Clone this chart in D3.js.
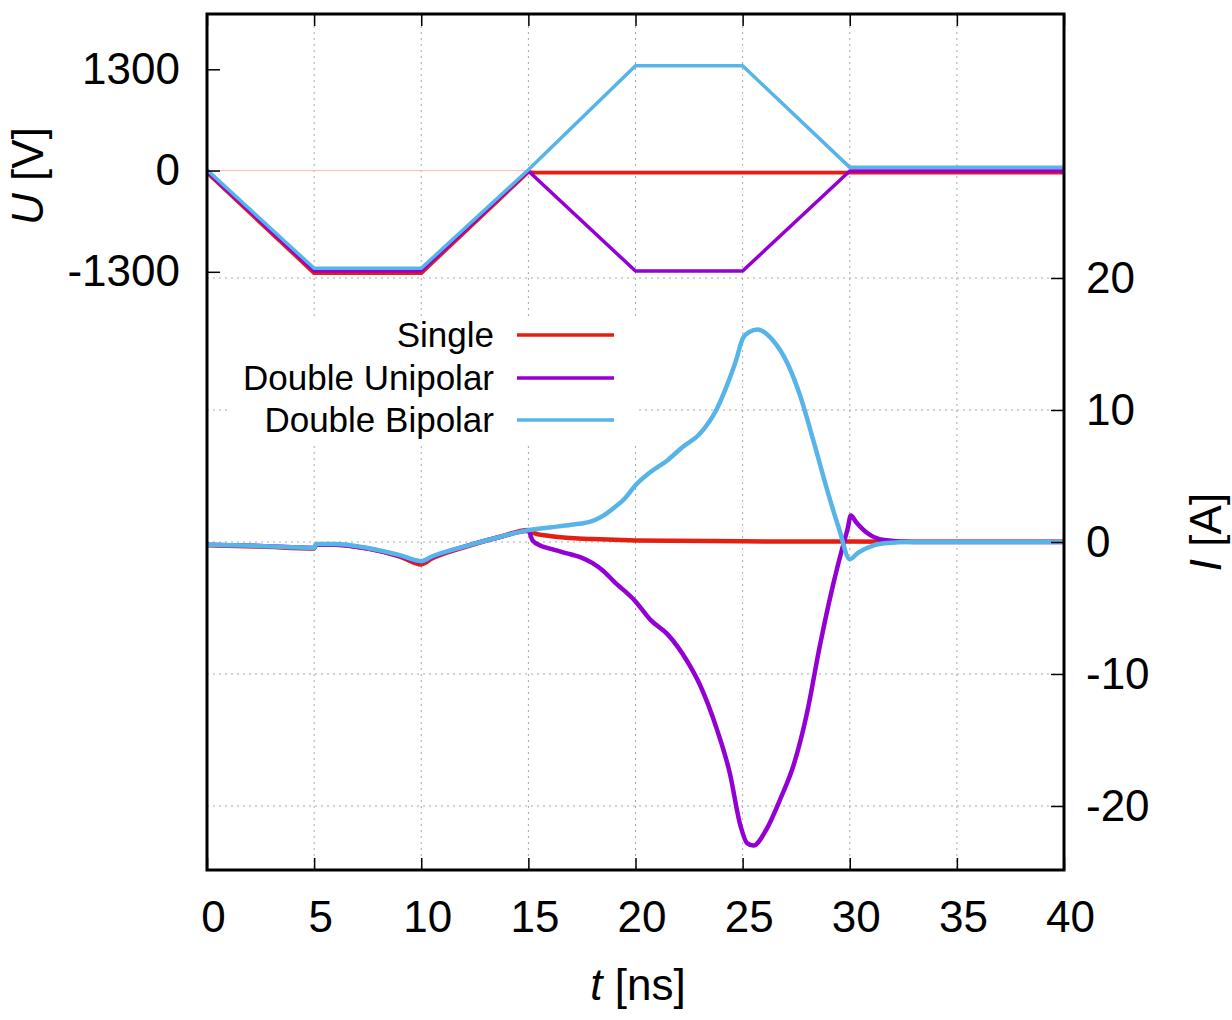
<!doctype html>
<html>
<head>
<meta charset="UTF-8">
<title>U and I vs t</title>
<script src="https://d3js.org/d3.v7.min.js"></script>
<style>
  body { margin: 0; background: #fff; }
  text { font-family: "Liberation Sans", Arial, Helvetica, sans-serif; fill: #000; }
</style>
</head>
<body>
<svg id="chart" width="1232" height="1020"></svg>
<script>
// ---- data ----
var tTicks = [0, 5, 10, 15, 20, 25, 30, 35, 40];
var uTicks = [-1300, 0, 1300];
var iTicks = [-20, -10, 0, 10, 20];
var names = ["Single", "Double Unipolar", "Double Bipolar"];
var colors = ["#e51e10", "#9400d3", "#56b4e9"];

// voltage [ns, V]
var uSingle = [[0,-30],[5,-1320],[10,-1320],[15,-20],[15.3,-28],[40,-28]];
var uUnipolar = [[0,-15],[5,-1290],[10,-1290],[15,-5],[20,-1290],[25,-1290],[30,-6],[40,-6]];
var uBipolar = [[0,10],[5,-1255],[10,-1255],[15,10],[20,1345],[25,1345],[30,41],[40,41]];

// current [ns, A]
var iSingle = [[0,-0.25],[2.5,-0.35],[5,-0.5],[5.1,-0.2],[6,-0.2],[7.5,-0.5],[9,-1.1],[10,-1.7],
  [10.5,-1.25],[12,-0.4],[13.7,0.4],[15,0.9],[15.3,0.65],[16,0.45],[17,0.3],[18,0.22],[20,0.12],
  [25,0.05],[30,0.03],[35,0.02],[40,0.02]];
var iUnipolar = [[0,-0.2],[2.5,-0.3],[5,-0.45],[5.1,-0.2],[6,-0.2],[7.5,-0.5],[9,-1.05],[10,-1.5],
  [10.5,-1.15],[12,-0.35],[13.7,0.4],[15,0.85],[15.2,0.1],[15.6,-0.3],[16,-0.5],[17,-0.95],
  [17.5,-1.2],[18,-1.6],[18.5,-2.2],[19,-3.0],[20,-4.5],[20.7,-5.9],[21.5,-7.0],[22.4,-9.0],
  [23,-10.8],[23.8,-14.2],[24.4,-17.5],[24.9,-21.5],[25.2,-22.8],[25.5,-23.0],[26.1,-21.8],
  [26.75,-19.5],[27.4,-16.8],[28,-13],[28.6,-7.9],[29.2,-3.4],[29.6,-0.8],[29.9,1.0],[30.05,2.0],
  [30.3,1.5],[30.8,0.7],[31.6,0.15],[33,0],[40,0]];
var iBipolar = [[0,-0.2],[2.5,-0.3],[5,-0.45],[5.1,-0.15],[6,-0.15],[7.5,-0.45],[9,-1.0],[10,-1.45],
  [10.5,-1.1],[12,-0.35],[13.7,0.4],[15,0.9],[16,1.1],[17,1.3],[18,1.6],[18.5,2.0],[19,2.6],
  [19.5,3.3],[20,4.3],[20.7,5.3],[21.5,6.2],[22.2,7.2],[23,8.2],[23.8,10.1],[24.3,12],[24.7,13.8],
  [25,15.4],[25.3,15.9],[25.7,16.1],[26.4,15.3],[27.1,13.5],[27.7,11.0],[28.3,7.7],[28.9,4.2],
  [29.5,1.0],[30,-1.3],[30.4,-0.8],[30.8,-0.45],[31.6,-0.1],[33,0],[40,0]];

var uSeries = [uSingle, uUnipolar, uBipolar];
var iSeries = [iSingle, iUnipolar, iBipolar];

// ---- layout ----
var pL = 207, pR = 1064, pT = 14, pB = 870;
var svg = d3.select("#chart");

var x = d3.scaleLinear().domain([0, 40]).range([pL, pR]);
var yU = d3.scaleLinear().domain([-8980, 2010]).range([pB, pT]);
var yI = d3.scaleLinear().domain([-24.85, 40]).range([pB, pT]);

svg.append("defs").append("clipPath").attr("id", "clip")
  .append("rect").attr("x", pL).attr("y", pT).attr("width", pR - pL).attr("height", pB - pT);

// grid
var grid = svg.append("g").attr("stroke", "#a8a8a8").attr("stroke-width", 1).attr("stroke-dasharray", "2,4");
grid.selectAll("line.v").data(tTicks.slice(1, -1)).enter().append("line")
  .attr("x1", function(d){ return x(d); }).attr("x2", function(d){ return x(d); })
  .attr("y1", pT).attr("y2", pB);
grid.selectAll("line.h").data(iTicks).enter().append("line")
  .attr("x1", pL).attr("x2", pR)
  .attr("y1", function(d){ return yI(d); }).attr("y2", function(d){ return yI(d); });

// zero line of U
svg.append("line").attr("x1", pL).attr("x2", pR)
  .attr("y1", yU(0)).attr("y2", yU(0))
  .attr("stroke", "#ffb8b8").attr("stroke-width", 1);

// legend box hides grid
svg.append("rect").attr("x", 228).attr("y", 318).attr("width", 409).attr("height", 124).attr("fill", "#fff");

var plot = svg.append("g").attr("clip-path", "url(#clip)");
var lineU = d3.line().x(function(d){ return x(d[0]); }).y(function(d){ return yU(d[1]); });
var lineI = d3.line().curve(d3.curveMonotoneX)
  .x(function(d){ return x(d[0]); }).y(function(d){ return yI(d[1]); });

plot.selectAll("path.u").data(uSeries).enter().append("path")
  .attr("d", lineU).attr("fill", "none")
  .attr("stroke", function(d, i){ return colors[i]; })
  .attr("stroke-width", 3.5).attr("stroke-linejoin", "round");

plot.selectAll("path.i").data(iSeries).enter().append("path")
  .attr("d", lineI).attr("fill", "none")
  .attr("stroke", function(d, i){ return colors[i]; })
  .attr("stroke-width", 4.5).attr("stroke-linejoin", "round");

// axes
var plain = function(d){ return String(d); };
function styleAxis(g) {
  g.select(".domain").remove();
  g.selectAll(".tick line").attr("stroke", "#000").attr("stroke-width", 1.5);
  g.selectAll(".tick text").attr("font-size", 44).attr("font-family", "Liberation Sans, Arial, sans-serif");
}
svg.append("g").attr("transform", "translate(0," + pB + ")")
  .call(d3.axisBottom(x).tickValues(tTicks).tickFormat(plain).tickSizeInner(-12).tickSizeOuter(0).tickPadding(31))
  .call(styleAxis)
  .selectAll(".tick text").attr("dx", 6);
svg.append("g").attr("transform", "translate(0," + pT + ")")
  .call(d3.axisTop(x).tickValues(tTicks).tickSizeInner(-12).tickSizeOuter(0).tickFormat(""))
  .call(styleAxis);
svg.append("g").attr("transform", "translate(" + pL + ",0)")
  .call(d3.axisLeft(yU).tickValues(uTicks).tickFormat(plain).tickSizeInner(-13).tickSizeOuter(0).tickPadding(27))
  .call(styleAxis);
svg.append("g").attr("transform", "translate(" + pR + ",0)")
  .call(d3.axisRight(yI).tickValues(iTicks).tickFormat(plain).tickSizeInner(-13).tickSizeOuter(0).tickPadding(22))
  .call(styleAxis);

// frame
svg.append("rect").attr("x", pL).attr("y", pT).attr("width", pR - pL).attr("height", pB - pT)
  .attr("fill", "none").attr("stroke", "#000").attr("stroke-width", 3);

// axis titles
var tt = svg.append("text").attr("x", 638).attr("y", 1000).attr("text-anchor", "middle").attr("font-size", 44);
tt.append("tspan").attr("font-style", "italic").text("t");
tt.append("tspan").text(" [ns]");

var ut = svg.append("text").attr("transform", "translate(43,176) rotate(-90)")
  .attr("text-anchor", "middle").attr("font-size", 44);
ut.append("tspan").attr("font-style", "italic").text("U");
ut.append("tspan").text(" [V]");

var it = svg.append("text").attr("transform", "translate(1221,532) rotate(-90)")
  .attr("text-anchor", "middle").attr("font-size", 44);
it.append("tspan").attr("font-style", "italic").text("I");
it.append("tspan").text(" [A]");

// legend
var legY = [335, 378, 420];
var leg = svg.append("g");
leg.selectAll("text").data(names).enter().append("text")
  .attr("x", 494).attr("y", function(d, i){ return legY[i]; })
  .attr("dy", "0.35em").attr("text-anchor", "end").attr("font-size", 35)
  .text(function(d){ return d; });
leg.selectAll("line").data(names).enter().append("line")
  .attr("x1", 517).attr("x2", 614)
  .attr("y1", function(d, i){ return legY[i]; }).attr("y2", function(d, i){ return legY[i]; })
  .attr("stroke", function(d, i){ return colors[i]; }).attr("stroke-width", 3.5);
</script>
</body>
</html>
